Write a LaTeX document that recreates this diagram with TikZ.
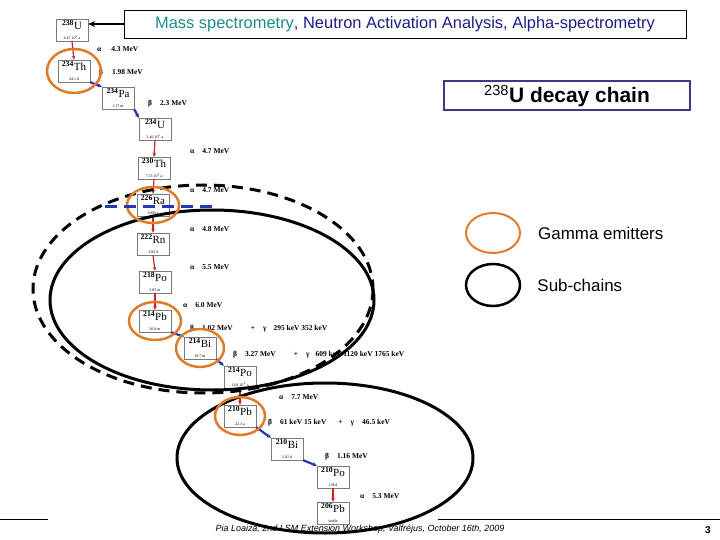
\documentclass[tikz,border=0pt]{standalone}
\usepackage{fontspec}
\setmainfont{Liberation Sans}
\newfontfamily\chainfont{Liberation Serif}
\usetikzlibrary{arrows.meta,positioning,shapes.geometric}
\definecolor{navy}{HTML}{1C1C8A}
\definecolor{mstext}{HTML}{1F8C8C}
\definecolor{frame}{HTML}{3B3B8C}
\definecolor{amber}{HTML}{E07B2A}
\definecolor{alph}{HTML}{D0202A}
\definecolor{bet}{HTML}{2437B5}
\definecolor{boxline}{HTML}{7A7A7A}

\begin{document}
\begin{tikzpicture}[
  x=1bp,y=-1bp,
  nucbox/.style={draw=boxline,fill=white,minimum width=32bp,minimum height=22bp,
    inner sep=0pt,align=center,font=\chainfont},
  adecay/.style={-{Stealth[length=4bp,width=3.5bp]},draw=alph,line width=1.2bp},
  bdecay/.style={-{Stealth[length=4bp,width=4bp]},draw=bet,line width=2.2bp},
  dlabel/.style={anchor=west,inner sep=0pt,
    font=\chainfont\bfseries\fontsize{7.5}{8}\selectfont},
  gammaring/.style={draw=amber,line width=2.5bp},
  subchain/.style={draw=black,line width=3bp},
  legend/.style={inner sep=0pt,font=\fontsize{17}{17}\selectfont}
]
  \useasboundingbox (0,0) rectangle (720,540);

  % decay chain boxes
  \foreach \n/\m/\el/\t/\x/\y in {
    u238/238/U/{4.47 10\textsuperscript{9} a}/72/30,
    th234/234/Th/{24.1 d}/74/71,
    pa234/234/Pa/{1.17 m}/118/98,
    u234/234/U/{2.46 10\textsuperscript{5} a}/155/129,
    th230/230/Th/{7.53 10\textsuperscript{4} a}/154/168,
    ra226/226/Ra/{1600 a}/153/205,
    rn222/222/Rn/{3.82 d}/153/244,
    po218/218/Po/{3.05 m}/155/282,
    pb214/214/Pb/{26.8 m}/155/321,
    bi214/214/Bi/{19.7 m}/200/348,
    po214/214/Po/{1.64 10\textsuperscript{-4} s}/240/377,
    pb210/210/Pb/{22.3 a}/240/416,
    bi210/210/Bi/{5.01 d}/287/449,
    po210/210/Po/{138 d}/333/477,
    pb206/206/Pb/{stable}/333/513}
    \node[nucbox] (\n) at (\x,\y)
      {{\fontsize{11}{11}\selectfont\textsuperscript{\bfseries\m}\el}\\[-1bp]
       {\fontsize{4}{4}\selectfont\t}};

  \foreach \a/\b in {u238/th234,u234/th230,th230/ra226,ra226/rn222,
    rn222/po218,po218/pb214,po214/pb210,po210/pb206}
    \draw[adecay] (\a.south) -- (\b.north);
  \foreach \a/\b in {th234/pa234,pa234/u234,pb214/bi214,bi214/po214,
    pb210/bi210,bi210/po210}
    \draw[bdecay] (\a.south east) -- (\b.north west);

  % decay energies
  \foreach \x/\y/\t [count=\i] in {
    97/49/{α\hspace{10bp}4.3 MeV},
    99/73/{β\hspace{9bp}1.98 MeV},
    148/104/{β\hspace{8bp}2.3 MeV},
    190/151/{α\hspace{8bp}4.7 MeV},
    190/190/{α\hspace{8bp}4.7 MeV},
    190/229/{α\hspace{8bp}4.8 MeV},
    190/267/{α\hspace{8bp}5.5 MeV},
    183/305/{α\hspace{8bp}6.0 MeV},
    190/329/{β\hspace{8bp}1.02 MeV\hspace{18bp}+\hspace{8bp}γ\hspace{7bp}295 keV 352 keV},
    233/355/{β\hspace{8bp}3.27 MeV\hspace{18bp}+\hspace{8bp}γ\hspace{6bp}609 keV 1120 keV 1765 keV},
    279/397/{α\hspace{8bp}7.7 MeV},
    268/423/{β\hspace{8bp}61 keV 15 keV\hspace{12bp}+\hspace{8bp}γ\hspace{8bp}46.5 keV},
    325/457/{β\hspace{8bp}1.16 MeV},
    360/496/{α\hspace{8bp}5.3 MeV}}
    \node[dlabel] (e\i) at (\x,\y) {\t};

  % headings
  \node[draw,line width=.6bp,minimum width=562bp,minimum height=28bp,inner sep=0pt,
    text=navy,font=\fontsize{16.5}{17}\selectfont] (title) at (405,24)
    {\textcolor{mstext}{Mass spectrometry}, Neutron Activation Analysis, Alpha-spectrometry};
  \draw[-{Stealth[length=7bp,width=6bp]},line width=1.2bp] (title.west) -- (title.west -| u238.east);
  \node[draw=frame,line width=2bp,minimum width=246bp,minimum height=29bp,inner sep=0pt,
    font=\fontsize{21}{21}\selectfont] (chain) at (567,96)
    {\textsuperscript{238}\textbf{U decay chain}};

  % footer
  \draw[line width=.6bp] (0,519) -- (48,519);
  \draw[line width=.6bp] (438,519) -- (720,519);
  \node[inner sep=0pt,font=\itshape\fontsize{9}{9}\selectfont] (foot) at (360,529)
    {Pia Loaiza, 2nd LSM Extension Workshop, Valfréjus, October 16th, 2009};
  \node[inner sep=0pt,font=\bfseries\fontsize{10}{10}\selectfont] (page) at (708,530) {3};

  % sub-chains and gamma emitters
  \draw[subchain,dash pattern=on 11bp off 7bp] (203,289) ellipse [x radius=170, y radius=104];
  \draw[subchain] (212,300) ellipse [x radius=162, y radius=90];
  \draw[subchain] (325,458) ellipse [x radius=148, y radius=75];
  \foreach \n/\rx/\ry in {th234/27/22,ra226/26/18,pb214/26/19,bi214/24/19,pb210/25/19}
    \draw[gammaring] (\n) ellipse [x radius=\rx, y radius=\ry];
  \draw[draw=bet,line width=3bp,dash pattern=on 12bp off 7bp] (105,207) -- (219,207);

  % legend
  \node[ellipse,draw=amber,line width=2bp,minimum width=54bp,minimum height=40bp] (lgamma) at (493,233) {};
  \node[ellipse,draw=black,line width=2.5bp,minimum width=54bp,minimum height=42bp] (lsub) at (493,285) {};
  \node[legend,right=17bp of lgamma] (tgamma) {Gamma emitters};
  \node[legend,right=16bp of lsub] (tsub) {Sub-chains};
\end{tikzpicture}
\end{document}
